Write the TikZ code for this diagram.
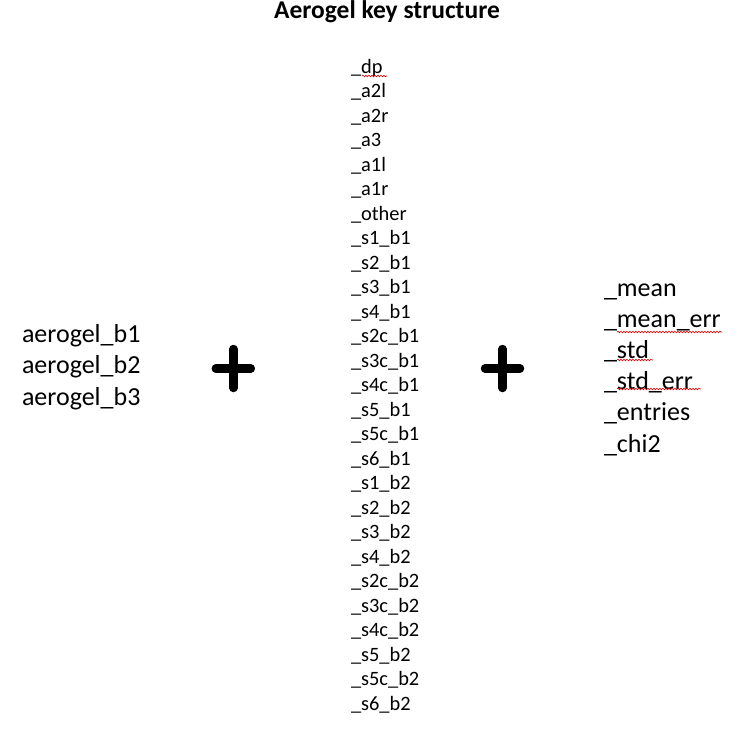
\documentclass[tikz,border=0pt]{standalone}
\usepackage{fontspec}
\setmainfont{Carlito}
\usetikzlibrary{decorations.pathmorphing}
\tikzset{
  txt/.style={anchor=base west, inner sep=0pt, outer sep=0pt},
  midtxt/.style={txt, font=\fontsize{20.4}{24}\selectfont},
  bigtxt/.style={txt, font=\fontsize{26}{30}\selectfont},
  titletxt/.style={anchor=base, inner sep=0pt, font=\bfseries\fontsize{25.5}{30}\selectfont},
  plusbar/.style={line width=8.5pt, line cap=round, black},
  squiggle/.style={draw=red!85!black, line width=0.6pt, decorate,
    decoration={snake, segment length=3pt, amplitude=0.8pt}}
}
\begin{document}
\begin{tikzpicture}[x=1pt,y=-1pt]
\useasboundingbox (0,0) rectangle (737,737);
\fill[white] (0,0) rectangle (737,737);
% title
\node[titletxt] (title) at (387,18.5) {Aerogel key structure};
% left block
\node[bigtxt] (l1) at (22,342) {aerogel\_b1};
\node[bigtxt] (l2) at (22,373.5) {aerogel\_b2};
\node[bigtxt] (l3) at (22,405) {aerogel\_b3};
% middle list
\foreach \t [count=\i from 0] in {dp,a2l,a2r,a3,a1l,a1r,other,s1\_b1,s2\_b1,s3\_b1,s4\_b1,s2c\_b1,s3c\_b1,s4c\_b1,s5\_b1,s5c\_b1,s6\_b1,s1\_b2,s2\_b2,s3\_b2,s4\_b2,s2c\_b2,s3c\_b2,s4c\_b2,s5\_b2,s5c\_b2,s6\_b2}{
  \node[midtxt] (m\i) at (351,{73+24.5*\i}) {\_\t};
}
% right block
\node[bigtxt] (r1) at (604,296) {\_mean};
\node[bigtxt] (r2) at (604,327.2) {\_mean\_err};
\node[bigtxt] (r3) at (604,358.4) {\_std};
\node[bigtxt] (r4) at (604,389.6) {\_std\_err};
\node[bigtxt] (r5) at (604,420.8) {\_entries};
\node[bigtxt] (r6) at (604,452) {\_chi2};
% plus signs
\coordinate (p1) at (233.3,368.5);
\coordinate (p2) at (502.5,368.5);
\foreach \p in {p1,p2}{
  \draw[plusbar] ([xshift=-17.5pt]\p) -- ([xshift=17.5pt]\p);
  \draw[plusbar] ([yshift=-19.5pt]\p) -- ([yshift=19.5pt]\p);
}
% spell-check squiggles
\draw[squiggle] (362,76) -- (387,76);
\draw[squiggle] (617,332) -- (722,332);
\draw[squiggle] (617,360) -- (653,360);
\draw[squiggle] (617,389) -- (701,389);
\end{tikzpicture}
\end{document}
